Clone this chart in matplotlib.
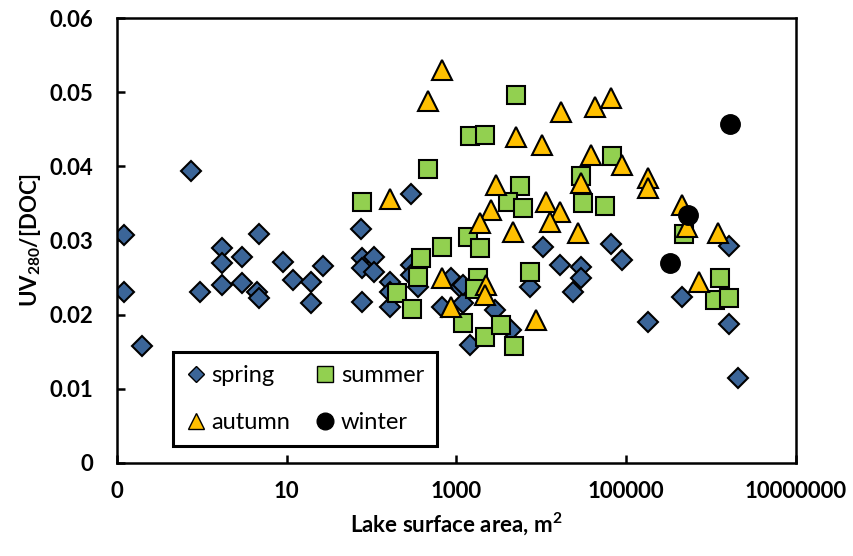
import matplotlib
matplotlib.use('Agg')
import matplotlib.pyplot as plt
from matplotlib.lines import Line2D
from matplotlib.ticker import FixedLocator, NullLocator

plt.rcParams['font.family'] = ['Lato', 'DejaVu Sans']
plt.rcParams['mathtext.fontset'] = 'custom'
plt.rcParams['mathtext.rm'] = 'Lato'
plt.rcParams['mathtext.bf'] = 'Lato:bold'

# lake surface area (m2) and UV280/[DOC] per season
spring_area = [0.121, 0.121, 0.197, 0.743, 0.946, 1.72, 1.72, 1.72, 2.96, 2.96,
               4.69, 4.44, 4.69, 8.97, 11.8, 19.1, 19.1, 26.5, 74.3, 76.3,
               106, 76.3, 106, 167, 167, 76.3, 167, 288, 288, 288,
               357, 667, 874, 1115, 1208, 1462, 1208, 2877, 4436, 10570,
               16750, 29580, 29580, 23770, 66680, 89760, 7430, 456000, 181600, 1.63e6,
               1.63e6, 2.08e6]
spring_uv = [0.0307, 0.0231, 0.0158, 0.0394, 0.0231, 0.0290, 0.0270, 0.0240, 0.0278, 0.0243,
             0.0309, 0.0231, 0.0222, 0.0271, 0.0247, 0.0244, 0.0216, 0.0266, 0.0315, 0.0276,
             0.0278, 0.0263, 0.0258, 0.0244, 0.0231, 0.0217, 0.0210, 0.0363, 0.0267, 0.0253,
             0.0237, 0.0210, 0.0249, 0.0237, 0.0216, 0.0159, 0.0240, 0.0206, 0.0179, 0.0291,
             0.0267, 0.0264, 0.0249, 0.0231, 0.0295, 0.0274, 0.0237, 0.0224, 0.0190, 0.0293,
             0.0187, 0.0115]

summer_area = [76.3, 456, 1462, 2194, 5080, 5660, 4090, 6140, 1384, 1914,
               684, 387, 348, 197, 296, 7430, 1815, 1675, 1208, 2194,
               3380, 4810, 29580, 68390, 31190, 56620, 481000, 1.28e6, 1.11e6, 1.63e6]
summer_uv = [0.0352, 0.0396, 0.0441, 0.0442, 0.0496, 0.0373, 0.0352, 0.0344, 0.0305, 0.0290,
             0.0291, 0.0276, 0.0251, 0.0229, 0.0208, 0.0258, 0.0249, 0.0235, 0.0189, 0.0170,
             0.0186, 0.0158, 0.0387, 0.0414, 0.0351, 0.0347, 0.0309, 0.0249, 0.0220, 0.0222]

autumn_area = [667, 456, 167, 667, 2254, 2194, 874, 8730, 2958, 2582,
               1914, 5080, 10280, 17180, 11460, 16750, 12770, 4690, 27230, 43150,
               66680, 38730, 89760, 29580, 181600, 181600, 456000, 522000, 1.21e6, 723000]
autumn_uv = [0.0530, 0.0488, 0.0356, 0.0249, 0.0240, 0.0227, 0.0210, 0.0193, 0.0375, 0.0341,
             0.0324, 0.0440, 0.0429, 0.0473, 0.0352, 0.0338, 0.0325, 0.0311, 0.0310, 0.0480,
             0.0492, 0.0415, 0.0402, 0.0378, 0.0384, 0.0371, 0.0348, 0.0318, 0.0310, 0.0244]

winter_area = [1.67e6, 535000, 330000]
winter_uv = [0.0457, 0.0334, 0.0270]

x_ticks = [0.1, 10, 1000, 100000, 10000000]
x_labels = ['0', '10', '1000', '100000', '10000000']
y_ticks = [0, 0.01, 0.02, 0.03, 0.04, 0.05, 0.06]
y_labels = ['0', '0.01', '0.02', '0.03', '0.04', '0.05', '0.06']

fig = plt.figure(figsize=(8.54, 5.56), dpi=100)
ax = fig.add_axes([0.137, 0.1673, 0.795, 0.8003])

ax.plot(spring_area, spring_uv, 'D', color='#3B6598', mec='black', mew=1.5, ms=10.5, ls='none')
ax.plot(summer_area, summer_uv, 's', color='#92D050', mec='black', mew=1.5, ms=13, ls='none')
ax.plot(autumn_area, autumn_uv, '^', color='#FFC000', mec='black', mew=1.5, ms=14, ls='none')
ax.plot(winter_area, winter_uv, 'o', color='black', mec='black', mew=1.0, ms=14, ls='none')

ax.set_xscale('log')
ax.set_xlim(0.1, 1e7)
ax.set_ylim(0, 0.06)
ax.xaxis.set_major_locator(FixedLocator(x_ticks))
ax.xaxis.set_minor_locator(NullLocator())
ax.set_xticklabels(x_labels)
ax.set_yticks(y_ticks)
ax.set_yticklabels(y_labels)
ax.tick_params(direction='in', length=6, width=1.8, labelsize=16, colors='black')
ax.tick_params(axis='x', pad=13)
ax.tick_params(axis='y', pad=17)
for lab in ax.get_yticklabels() + ax.get_xticklabels():
    lab.set_fontweight('bold')
for sp in ax.spines.values():
    sp.set_linewidth(1.8)
    sp.set_color('black')

ax.set_xlabel(r'Lake surface area, m$^{\mathbf{2}}$', fontsize=16, fontweight='bold', labelpad=6)
ax.set_ylabel(r'UV$_{\mathbf{280}}$/[DOC]', fontsize=16, fontweight='bold', labelpad=5)

# legend filled column-wise: spring/autumn left, summer/winter right
handles = [
    Line2D([], [], marker='D', color='#3B6598', mec='black', mew=1.0, ms=8, ls='none'),
    Line2D([], [], marker='^', color='#FFC000', mec='black', mew=1.0, ms=12, ls='none'),
    Line2D([], [], marker='s', color='#92D050', mec='black', mew=1.0, ms=11, ls='none'),
    Line2D([], [], marker='o', color='black', mec='black', mew=1.0, ms=12, ls='none'),
]
leg = ax.legend(handles, ['spring', 'autumn', 'summer', 'winter'], ncol=2,
                loc='lower left', bbox_to_anchor=(0.083, 0.038), borderaxespad=0,
                fontsize=17, handlelength=0.8, handletextpad=0.25, columnspacing=1.1,
                labelspacing=1.1, borderpad=0.55, fancybox=False, framealpha=1)
leg.get_frame().set_edgecolor('black')
leg.get_frame().set_linewidth(2.2)

fig.savefig('out.png', dpi=100)
